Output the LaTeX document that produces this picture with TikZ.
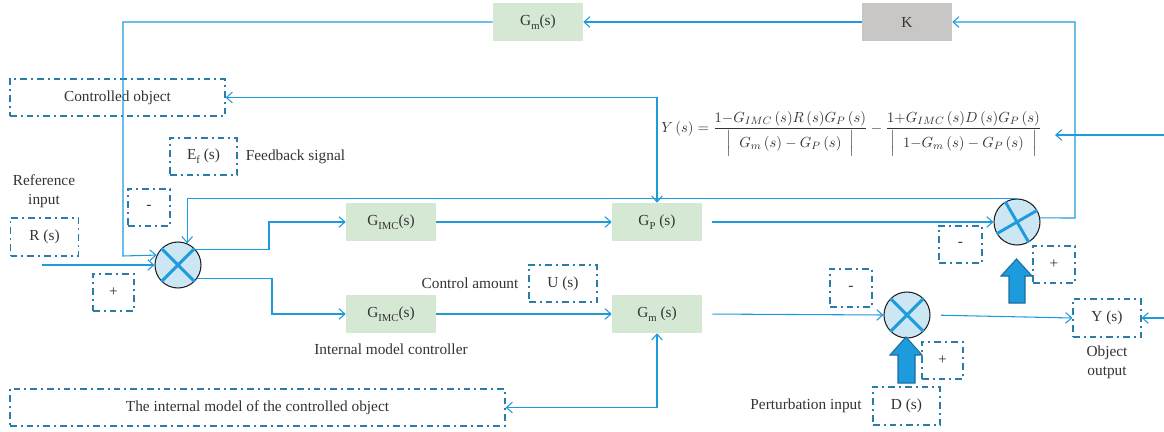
\documentclass[tikz,border=0pt]{standalone}
\usepackage{amsmath}
\usepackage{fontspec}
\setmainfont{Liberation Serif}
\usetikzlibrary{arrows.meta}
\definecolor{linec}{HTML}{1E9BDC}
\definecolor{dashc}{HTML}{2A7DA8}
\definecolor{greenc}{HTML}{D5E8D4}
\definecolor{grayc}{HTML}{C8C7C6}
\definecolor{circf}{HTML}{CDE6F4}
\definecolor{circb}{HTML}{222222}
\definecolor{blkb}{HTML}{1A6E9E}
\definecolor{txt}{HTML}{333333}
\newcommand{\lsub}[1]{\raisebox{-0.6ex}{\fontsize{8}{9}\selectfont #1}}
\begin{document}
\begin{tikzpicture}[x=0.75pt,y=-0.75pt,
  every node/.style={font=\fontsize{11.5}{14}\selectfont, text=txt},
  gbox/.style={fill=greenc, minimum width=67.5pt, minimum height=28.5pt, inner sep=0pt},
  kbox/.style={fill=grayc, minimum width=67.5pt, minimum height=28.5pt, inner sep=0pt},
  dbox/.style={draw=dashc, line width=0.9pt, dash pattern=on 5pt off 3pt on 1.5pt off 3pt, inner sep=0pt, minimum height=27.75pt},
  sumc/.style={circle, draw=circb, line width=0.8pt, fill=circf, minimum size=34.5pt, inner sep=0pt},
  ln/.style={draw=linec, line width=0.8pt},
  arr/.style={ln, -{Straight Barb[length=4.5pt,width=8pt]}},
  arr2/.style={ln, {Straight Barb[length=4.5pt,width=8pt]}-{Straight Barb[length=4.5pt,width=8pt]}},
  blk/.style={fill=linec, draw=blkb, line width=0.8pt},
  xl/.style={draw=linec, line width=2.2pt}]
\useasboundingbox (0,0) rectangle (1164,432);

% solid boxes
\node[kbox] (K) at (907,22) {K};
\node[gbox] (GmT) at (538,22) {G\lsub{m}(s)};
\node[gbox] (G1) at (391,222) {G\lsub{IMC}(s)};
\node[gbox] (G2) at (391,314) {G\lsub{IMC}(s)};
\node[gbox] (Gp) at (657,222) {G\lsub{P} (s)};
\node[gbox] (Gmb) at (657,314) {G\lsub{m} (s)};

% summing junctions
\node[sumc] (sumL) at (178,265) {};
\node[sumc] (sumT) at (1017,222) {};
\node[sumc] (sumB) at (907,315) {};
\draw[xl] (sumL.135) -- (sumL.-45);
\draw[xl] (sumL.45) -- (sumL.225);
\draw[xl] (sumB.135) -- (sumB.-45);
\draw[xl] (sumB.45) -- (sumB.225);
\draw[xl] (sumT.120) -- (sumT.-60);
\draw[xl] (sumT.30) -- (sumT.210);

% dash-dot boxes
\node[dbox, minimum width=161.25pt] (ctrl) at (117.5,97.5) {Controlled object};
\node[dbox, minimum width=50.25pt] (Ef) at (203.5,156.5) {E\lsub{f} (s)};
\node[dbox, minimum width=31.5pt] (mL) at (149,207.5) {-};
\node[dbox, minimum width=51pt, minimum height=28.5pt] (R) at (44.5,237) {R (s)};
\node[dbox, minimum width=30.75pt] (pL) at (113.5,292.5) {+};
\node[dbox, minimum width=51pt] (U) at (563,283.5) {U (s)};
\node[dbox, minimum width=371.25pt] (im) at (257.5,407.5) {The internal model of the controlled object};
\node[dbox, minimum width=32.25pt] (mT) at (960.5,244.5) {-};
\node[dbox, minimum width=31.5pt] (pT) at (1054,264.5) {+};
\node[dbox, minimum width=31.5pt, minimum height=28.5pt] (mB) at (851,288) {-};
\node[dbox, minimum width=30.75pt] (pB) at (942.5,360.5) {+};
\node[dbox, minimum width=50.25pt, minimum height=28.5pt] (D) at (906.5,406) {D (s)};
\node[dbox, minimum width=51pt, minimum height=28.5pt] (Y) at (1107,318) {Y (s)};

% labels
\node (fb) at (295.5,157) {Feedback signal};
\node[align=center] (ri) at (44,191) {Reference\\input};
\node (ca) at (470,283) {Control amount};
\node (imc) at (391,349) {Internal model controller};
\node (pi) at (806,406) {Perturbation input};
\node[align=center] (oo) at (1107,362) {Object\\output};

% formula
\node[anchor=west, inner sep=0pt, font=\fontsize{11.1}{13}\selectfont] (fm) at (661,134) {$Y\,(s) = \dfrac{1{-}G_{IMC}\,(s)R\,(s)G_{P}\,(s)}{\Big|\;\;G_{m}\,(s)-G_{P}\,(s)\;\;\Big|} - \dfrac{1{+}G_{IMC}\,(s)D\,(s)G_{P}\,(s)}{\Big|\;\;1{-}G_{m}\,(s)-G_{P}\,(s)\;\;\Big|}$};

% block arrows
\filldraw[blk] (1009,303) -- (1009,276) -- (1001,276) -- (1016.5,259) -- (1032,276) -- (1025,276) -- (1025,303) -- cycle;
\filldraw[blk] (898,383) -- (898,355) -- (890,355) -- (906,337) -- (922,355) -- (915,355) -- (915,383) -- cycle;

% coordinates
\coordinate (cTR) at (1075,218);
\coordinate (cL) at (123,256);
\coordinate (rin) at (42,265);
\coordinate (j1) at (269,250);
\coordinate (j2) at (272,278);
\coordinate (yin) at (1164,318);
\coordinate (fin) at (1164,135);
\coordinate (fe) at (1055,135);

% connectors
\draw[arr] (sumT.10) -- (cTR) |- (K.east);
\draw[arr] (K.west) -- (GmT.east);
\draw[arr] (GmT.west) -| (cL) -- (sumL.155);
\draw[arr] (rin) -- (sumL.west);
\draw[arr] (sumT.north) -| (sumL.67);
\draw[arr2] (ctrl.east) -| (Gp.north);
\draw[arr] (sumL.40) -- (sumL.40 -| j1) |- (G1.west);
\draw[arr] (sumL.-35) -- (sumL.-35 -| j2) |- (G2.west);
\draw[arr] (G1.east) -- (Gp.west);
\draw[arr] (G2.east) -- (Gmb.west);
\draw[arr, shorten <=7.5pt] (Gp.east) -- (sumT.west);
\draw[arr, shorten <=7.5pt] (Gmb.east) -- (sumB.west);
\draw[arr, shorten <=8pt] (sumB.east) -- (Y.west);
\draw[arr] (yin) -- (Y.east);
\draw[arr] (fin) -- (fe);
\draw[arr2] (Gmb.south) |- (im.east);
\end{tikzpicture}
\end{document}
